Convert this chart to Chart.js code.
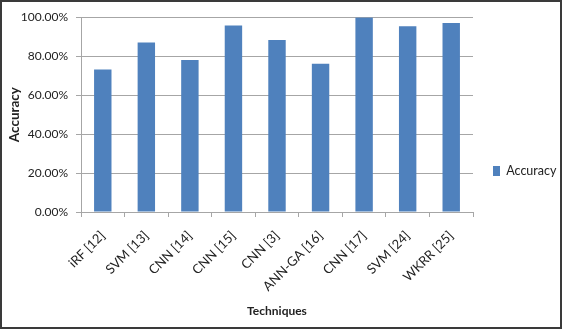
<!DOCTYPE html>
<html>
<head>
<meta charset="utf-8">
<script src="https://cdn.jsdelivr.net/npm/chart.js@4"></script>
<style>
  html, body { margin: 0; padding: 0; background: #fff; }
  #wrap { width: 562px; height: 329px; box-sizing: border-box; border: 2px solid #3a3a3a; }
  canvas { display: block; }
</style>
</head>
<body>
<div id="wrap"><canvas id="myChart" width="558" height="325"></canvas></div>
<script>
const techniques = ['iRF [12]', 'SVM [13]', 'CNN [14]', 'CNN [15]', 'CNN [3]', 'ANN-GA [16]', 'CNN [17]', 'SVM [24]', 'WKRR [25]'];
const accuracy = [73.1, 87.0, 78.0, 95.8, 88.3, 76.1, 99.8, 95.3, 97.0];
const yTicks = [0, 20, 40, 60, 80, 100];

const font = 'Lato, "Open Sans", sans-serif';
const gridGrey = '#a6a6a6';

window.addEventListener('load', setup);

function setup() {
  const ctx = document.getElementById('myChart').getContext('2d');
  const myChart = new Chart(ctx, {
    type: 'bar',
    data: {
      labels: techniques,
      datasets: [
        {
          label: 'Accuracy',
          data: accuracy,
          backgroundColor: '#4f81bd',
          borderWidth: 0,
          barPercentage: 0.4,
          categoryPercentage: 1
        }
      ]
    },
    options: {
      responsive: false,
      animation: false,
      layout: { padding: { left: 4, top: 13, right: 0, bottom: 0 } },
      plugins: {
        tooltip: { enabled: false },
        legend: {
          position: 'right',
          maxWidth: 87,
          labels: {
            boxWidth: 7,
            boxHeight: 10,
            padding: 20,
            color: '#222',
            font: { family: font, size: 12.5 }
          }
        }
      },
      scales: {
        x: {
          grid: { drawOnChartArea: false, drawTicks: true, tickLength: 5, color: gridGrey },
          border: { color: gridGrey },
          ticks: {
            color: '#222',
            minRotation: 45,
            maxRotation: 45,
            padding: 11,
            font: { family: font, size: 13 }
          },
          title: {
            display: true,
            text: 'Techniques',
            color: '#222',
            padding: { top: 0, bottom: 9 },
            font: { family: font, size: 12, weight: 'bold' }
          },
          afterFit: function (scale) { scale.height = 115; }
        },
        y: {
          min: 0,
          max: 100,
          afterBuildTicks: function (scale) { scale.ticks = yTicks.map(v => ({ value: v })); },
          grid: { color: gridGrey, tickLength: 5 },
          border: { color: gridGrey },
          ticks: {
            color: '#222',
            padding: 8,
            font: { family: font, size: 12 },
            callback: v => v.toFixed(2) + '%'
          },
          title: {
            display: true,
            text: 'Accuracy',
            color: '#222',
            padding: { top: 1, bottom: 0 },
            font: { family: font, size: 13.5, weight: 'bold' }
          },
          afterFit: function (scale) { scale.width = 75; }
        }
      }
    }
  });
}
</script>
</body>
</html>
